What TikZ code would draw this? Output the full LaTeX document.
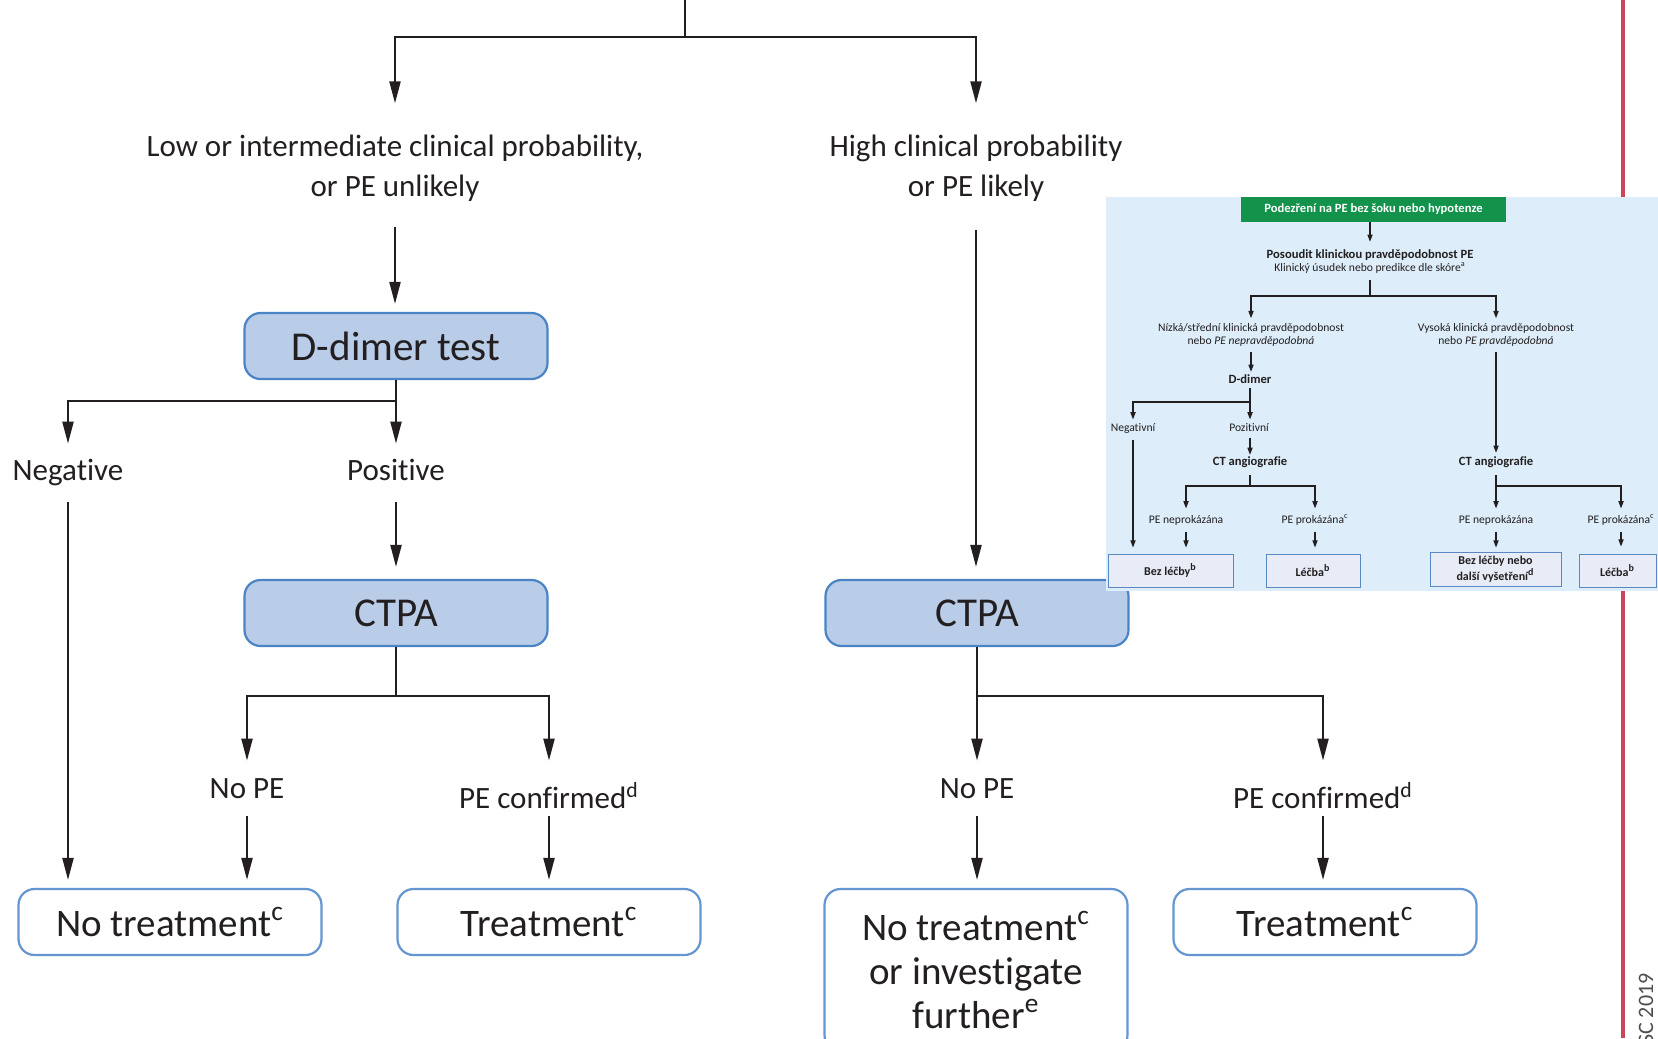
\documentclass[tikz,border=0pt]{standalone}
\usepackage{fontspec}
\setmainfont{Carlito}[Ligatures=NoCommon]
\usetikzlibrary{arrows.meta}
\definecolor{ink}{HTML}{231F20}
\definecolor{boxfill}{HTML}{B9CDE9}
\definecolor{boxedge}{HTML}{4A84C4}
\definecolor{endedge}{HTML}{6596D2}
\definecolor{insetbg}{HTML}{DDEEFA}
\definecolor{ifill}{HTML}{E8ECF6}
\definecolor{iedge}{HTML}{5A88C4}
\definecolor{escgreen}{HTML}{12924A}
\definecolor{redline}{HTML}{CC4659}
\tikzset{
  conn/.style={draw=ink, line width=1.1pt},
  arr/.style={conn, -{Triangle[length=11pt,width=5.5pt]}},
  lbl/.style={inner sep=0pt, text=ink, font=\fontsize{15.5}{20}\selectfont, align=center},
  onelbl/.style={lbl, text height=11pt, text depth=3pt},
  testbox/.style={draw=boxedge, fill=boxfill, line width=1.1pt, rounded corners=8pt,
    minimum width=151.5pt, minimum height=33pt, inner sep=0pt,
    font=\fontsize{20.5}{24}\selectfont, text=ink},
  endbox/.style={draw=endedge, fill=white, line width=1.1pt, rounded corners=8pt,
    minimum width=151.5pt, minimum height=33pt, inner sep=0pt,
    font=\fontsize{19.5}{22}\selectfont, text=ink, align=center},
  iconn/.style={draw=ink, line width=0.55pt},
  iarr/.style={iconn, -{Triangle[length=3.6pt,width=2.6pt]}},
  itxt/.style={inner sep=0pt, text=ink, font=\fontsize{5.8}{6.5}\selectfont, align=center},
  ione/.style={itxt, text height=4pt, text depth=1.2pt},
  ibold/.style={inner sep=0pt, text=ink, font=\bfseries\fontsize{6.3}{6.5}\selectfont,
    text height=4.5pt, text depth=1.3pt},
  ibox/.style={draw=iedge, fill=ifill, line width=0.5pt, inner sep=0pt,
    minimum height=16.5pt, font=\bfseries\fontsize{6}{6.6}\selectfont, align=center, text=ink},
}
\begin{document}
\begin{tikzpicture}[x=0.5pt,y=-0.5pt]
\useasboundingbox (0,0) rectangle (1658,1038);
\fill[white] (0,0) rectangle (1658,1038);

% red margin line
\draw[draw=redline, line width=1.7pt] (1623,0) -- (1623,1038);

% ---------- main diagram ----------
\coordinate (top) at (685,0);
\coordinate (split) at (685,37);
\node[lbl] (low) at (395,168) {Low or intermediate clinical probability,\\or PE unlikely};
\node[lbl] (high) at (976,168) {High clinical probability\\or PE likely};

\node[testbox] (ddimer) at (396,346) {D-dimer test};
\coordinate (dsplit) at (396,401);
\node[onelbl] (neg) at (68,472) {Negative};
\node[onelbl] (pos) at (396,472) {Positive};

\node[testbox] (ctpa1) at (396,613) {CTPA};
\node[testbox] (ctpa2) at (977,613) {CTPA};
\coordinate (c1split) at (396,696);
\coordinate (c2split) at (977,696);

\node[onelbl] (nope1) at (247,790) {No PE};
\node[onelbl] (pec1) at (549,800) {PE confirmed\textsuperscript{d}};
\node[onelbl] (nope2) at (977,790) {No PE};
\node[onelbl] (pec2) at (1323,800) {PE confirmed\textsuperscript{d}};

\node[endbox] (notreat1) at (170,922) {No treatment\textsuperscript{c}};
\node[endbox] (treat1) at (549,922) {Treatment\textsuperscript{c}};
\node[endbox, minimum height=81pt] (notreat2) at (976,970)
  {No treatment\textsuperscript{c}\\[0pt]or investigate\\[0pt]further\textsuperscript{e}};
\node[endbox] (treat2) at (1325,922) {Treatment\textsuperscript{c}};

\draw[conn] (top) -- (split);
\draw[arr, shorten >=15.5pt] (split) -| (low.north);
\draw[arr, shorten >=15.5pt] (split) -| (high.north);
\draw[arr, shorten <=12.5pt, shorten >=4pt] (low.south) -- (low.south |- ddimer.north);
\draw[conn] (ddimer.south) -- (dsplit);
\draw[arr, shorten >=7pt] (dsplit) -| (neg.north);
\draw[arr, shorten >=7pt] (dsplit) -- (pos.north);
\draw[arr, shorten <=8pt, shorten >=4pt] (neg.south) -- (neg.south |- notreat1.north);
\draw[arr, shorten <=8pt, shorten >=6pt] (pos.south) -- (ctpa1.north);
\draw[conn] (ctpa1.south) -- (c1split);
\draw[arr, shorten >=7.5pt] (c1split) -| (nope1.north);
\draw[arr, shorten >=12.5pt] (c1split) -| (pec1.north);
\draw[arr, shorten <=6pt, shorten >=4pt] (nope1.south) -- (nope1.south |- notreat1.north);
\draw[arr, shorten <=1pt, shorten >=4pt] (pec1.south) -- (pec1.south |- treat1.north);

\draw[arr, shorten <=14pt, shorten >=6pt] (high.south) -- (high.south |- ctpa2.north);
\draw[conn] (ctpa2.south) -- (c2split);
\draw[arr, shorten >=7.5pt] (c2split) -- (nope2.north);
\draw[arr, shorten >=12.5pt] (c2split) -| (pec2.north);
\draw[arr, shorten <=6pt, shorten >=4pt] (nope2.south) -- (nope2.south |- notreat2.north);
\draw[arr, shorten <=1pt, shorten >=4pt] (pec2.south) -- (pec2.south |- treat2.north);

% copyright (cut by the page edge, as in the reference)
\node[inner sep=0pt, rotate=90, anchor=base east, text=ink!80,
  font=\fontsize{11}{13}\selectfont] (copy) at (1653,973) {\textcopyright ESC 2019};

% ---------- inset (Czech version) ----------
\fill[insetbg] (1106,197) rectangle (1658,591);

\node[fill=escgreen, inner sep=0pt, minimum width=132.5pt, minimum height=12.5pt,
  text=white, font=\bfseries\fontsize{6.3}{7}\selectfont] (igreen) at (1373.5,209.5)
  {Podezření na PE bez šoku nebo hypotenze};
\node[itxt] (iassess) at (1370,262)
  {{\bfseries\fontsize{6.3}{6.5}\selectfont Posoudit klinickou pravděpodobnost PE}\\
   Klinický úsudek nebo predikce dle skóre\textsuperscript{a}};
\coordinate (isplit) at (1371,296);
\node[itxt] (ilow) at (1251,335)
  {Nízká/střední klinická pravděpodobnost\\nebo \textit{PE nepravděpodobná}};
\node[itxt] (ihigh) at (1496,335)
  {Vysoká klinická pravděpodobnost\\nebo \textit{PE pravděpodobná}};
\node[ibold] (iddimer) at (1250,380) {D-dimer};
\coordinate (iddsplit) at (1250,402);
\node[ione] (ineg) at (1133,429) {Negativní};
\node[ione] (ipos) at (1249,429) {Pozitivní};
\node[ibold] (ict1) at (1250,462) {CT angiografie};
\node[ibold] (ict2) at (1496,462) {CT angiografie};
\coordinate (ic1split) at (1250,486);
\coordinate (ic2split) at (1496,486);
\node[ione] (ino1) at (1186,521) {PE neprokázána};
\node[ione] (iyes1) at (1315,521) {PE prokázána\textsuperscript{c}};
\node[ione] (ino2) at (1496,521) {PE neprokázána};
\node[ione] (iyes2) at (1621,521) {PE prokázána\textsuperscript{c}};

\node[ibox, minimum width=62.5pt] (ibox1) at (1170.5,570.5) {Bez léčby\textsuperscript{b}};
\node[ibox, minimum width=47pt] (ibox2) at (1313,570.5) {Léčba\textsuperscript{b}};
\node[ibox, minimum width=65.5pt, minimum height=17pt] (ibox3) at (1495.5,569)
  {Bez léčby nebo\\další vyšetření\textsuperscript{d}};
\node[ibox, minimum width=38.5pt] (ibox4) at (1617.5,570.5) {Léčba\textsuperscript{b}};

\draw[iarr, shorten >=4pt] (igreen.south -| iassess.north) -- (iassess.north);
\draw[iconn, shorten <=3pt] (iassess.south) -- (iassess.south |- isplit);
\draw[iarr, shorten >=2.5pt] (isplit) -| (ilow.north);
\draw[iarr, shorten >=2.5pt] (isplit) -| (ihigh.north);
\draw[iarr, shorten <=2.5pt, shorten >=1pt] (ilow.south) -- (ilow.south |- iddimer.north);
\draw[iconn, shorten <=1pt] (iddimer.south) -- (iddsplit);
\draw[iarr, shorten >=2pt] (iddsplit) -| (ineg.north);
\draw[iarr, shorten >=2pt] (iddsplit) -- (iddsplit |- ipos.north);
\draw[iarr, shorten <=2.5pt, shorten >=3pt] (ineg.south) -- (ineg.south |- ibox1.north);
\draw[iarr, shorten <=1.5pt, shorten >=0.5pt] (iddsplit |- ipos.south) -- (iddsplit |- ict1.north);
\draw[iconn, shorten <=3.5pt] (ict1.south) -- (ic1split);
\draw[iarr, shorten >=3.5pt] (ic1split) -| (ino1.north);
\draw[iarr, shorten >=3.5pt] (ic1split) -| (iyes1.north);
\draw[iarr, shorten <=2.5pt, shorten >=3pt] (ino1.south) -- (ino1.south |- ibox1.north);
\draw[iarr, shorten <=2.5pt, shorten >=3pt] (iyes1.south) -- (iyes1.south |- ibox2.north);

\draw[iarr, shorten <=2.5pt, shorten >=1.5pt] (ihigh.south) -- (ihigh.south |- ict2.north);
\draw[iconn, shorten <=3.5pt] (ict2.south) -- (ic2split);
\draw[iarr, shorten >=3.5pt] (ic2split) -- (ino2.north);
\draw[iarr, shorten >=3.5pt] (ic2split) -| (iyes2.north);
\draw[iarr, shorten <=2.5pt, shorten >=2pt] (ino2.south) -- (ino2.south |- ibox3.north);
\draw[iarr, shorten <=2.5pt, shorten >=3.5pt] (iyes2.south) -- (iyes2.south |- ibox4.north);
\end{tikzpicture}
\end{document}
